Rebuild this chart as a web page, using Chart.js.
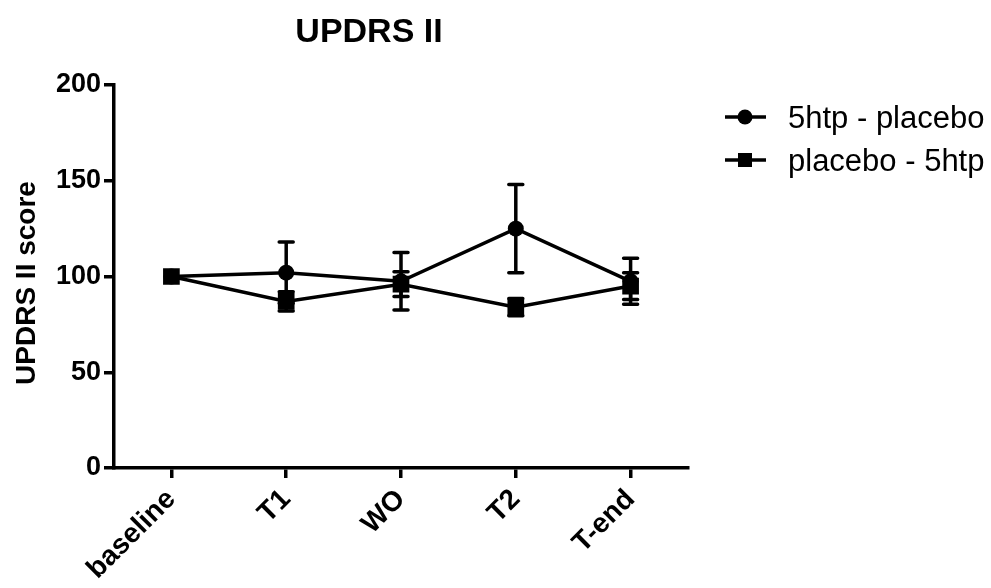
<!DOCTYPE html>
<html>
<head>
<meta charset="utf-8">
<script src="https://cdn.jsdelivr.net/npm/chart.js@4.4.1/dist/chart.umd.min.js"></script>
<style>
  html, body { margin: 0; padding: 0; background: #fff; }
  #wrap { width: 991px; height: 588px; }
</style>
</head>
<body>
<div id="wrap"><canvas id="chart" width="991" height="588"></canvas></div>
<script>
// Données
const categories = ['baseline', 'T1', 'WO', 'T2', 'T-end'];
const htpPlaceboMean = [100, 102, 97.5, 125, 97.5];
const htpPlaceboSem = [0, 16, 15, 23, 12];
const placeboHtpMean = [100, 87, 96, 84, 95];
const placeboHtpSem = [0, 5, 6.5, 4.5, 7];
const yTicks = [0, 50, 100, 150, 200];

const seriesNames = ['5htp - placebo', 'placebo - 5htp'];
const sems = [htpPlaceboSem, placeboHtpSem];
const FONT = '"Liberation Sans", Arial, sans-serif';

// Barres d'erreur (SEM), dessinées avec les échelles du graphique
const errorBars = {
    id: 'errorBars',
    beforeDatasetsDraw(chart) {
        const { ctx, scales: { x, y } } = chart;
        ctx.save();
        ctx.strokeStyle = '#000';
        ctx.lineWidth = 3.5;
        ctx.lineCap = 'round';
        chart.data.datasets.forEach((ds, i) => {
            ds.data.forEach((v, j) => {
                const e = sems[i][j];
                if (!e) return;
                const px = x.getPixelForValue(j);
                const top = y.getPixelForValue(v + e);
                const bot = y.getPixelForValue(v - e);
                ctx.beginPath();
                ctx.moveTo(px, top);
                ctx.lineTo(px, bot);
                ctx.moveTo(px - 7, top);
                ctx.lineTo(px + 7, top);
                ctx.moveTo(px - 7, bot);
                ctx.lineTo(px + 7, bot);
                ctx.stroke();
            });
        });
        ctx.restore();
    }
};

// Titres et légende (ligne + marqueur) dessinés à la main
const decorations = {
    id: 'decorations',
    afterDraw(chart) {
        const { ctx } = chart;
        ctx.save();
        ctx.fillStyle = '#000';
        ctx.font = 'bold 34px ' + FONT;
        ctx.textAlign = 'center';
        ctx.textBaseline = 'alphabetic';
        ctx.fillText('UPDRS II', 369, 42);

        // titre de l'axe Y
        ctx.save();
        ctx.translate(35, 283);
        ctx.rotate(-Math.PI / 2);
        ctx.font = 'bold 28px ' + FONT;
        ctx.fillText('UPDRS II score', 0, 0);
        ctx.restore();

        ctx.font = '31px ' + FONT;
        ctx.textAlign = 'left';
        const rows = [117, 160];
        chart.data.datasets.forEach((ds, i) => {
            const ly = rows[i];
            ctx.strokeStyle = '#000';
            ctx.lineWidth = 3.5;
            ctx.beginPath();
            ctx.moveTo(725, ly);
            ctx.lineTo(766, ly);
            ctx.stroke();
            ctx.beginPath();
            if (ds.pointStyle === 'circle') {
                ctx.arc(745, ly, 7.5, 0, Math.PI * 2);
            } else {
                ctx.rect(738, ly - 7, 14, 14);
            }
            ctx.fill();
            ctx.fillText(ds.label, 788, ly + 11);
        });
        ctx.restore();
    }
};

new Chart(document.getElementById('chart'), {
    type: 'line',
    data: {
        labels: categories,
        datasets: [
            {
                label: seriesNames[0],
                data: htpPlaceboMean,
                borderColor: '#000',
                backgroundColor: '#000',
                borderWidth: 3.5,
                pointStyle: 'circle',
                pointRadius: 8,
                pointBorderWidth: 0,
                tension: 0
            },
            {
                label: seriesNames[1],
                data: placeboHtpMean,
                borderColor: '#000',
                backgroundColor: '#000',
                borderWidth: 3.5,
                pointStyle: 'rect',
                pointRadius: 11.8,
                pointBorderWidth: 0,
                tension: 0
            }
        ]
    },
    options: {
        responsive: false,
        animation: false,
        devicePixelRatio: 1,
        layout: { padding: { top: 85, right: 303, left: 0, bottom: 0 } },
        plugins: {
            legend: { display: false },
            title: { display: false },
            tooltip: { enabled: false }
        },
        scales: {
            x: {
                offset: true,
                afterFit: (s) => { s.height = 120; },
                border: { color: '#000', width: 3.5 },
                grid: { drawOnChartArea: false, color: '#000', lineWidth: 3.5, tickLength: 10 },
                ticks: {
                    color: '#000',
                    maxRotation: 45,
                    minRotation: 45,
                    padding: 5,
                    font: { family: FONT, size: 28, weight: 'bold' }
                }
            },
            y: {
                min: 0,
                max: 200,
                afterFit: (s) => { s.width = 114; },
                afterBuildTicks: (s) => { s.ticks = yTicks.map(v => ({ value: v })); },
                border: { color: '#000', width: 3.5 },
                grid: { drawOnChartArea: false, color: '#000', lineWidth: 3.5, tickLength: 10 },
                ticks: {
                    color: '#000',
                    padding: 3,
                    font: { family: FONT, size: 27, weight: 'bold' }
                }
            }
        }
    },
    plugins: [errorBars, decorations]
});
</script>
</body>
</html>
